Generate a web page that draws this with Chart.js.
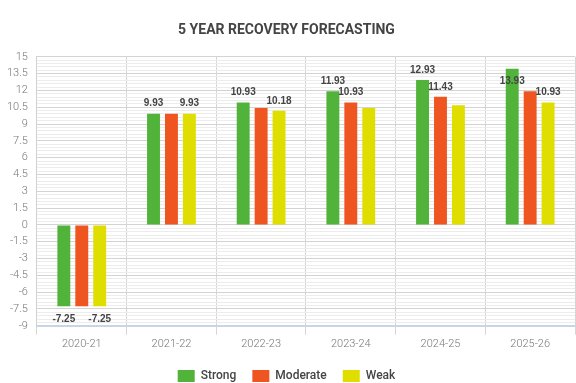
<!DOCTYPE html>
<html>
<head>
<meta charset="utf-8">
<script src="https://cdn.jsdelivr.net/npm/chart.js@4/dist/chart.umd.min.js"></script>
<style>
html,body{margin:0;padding:0;background:#fff;}
#wrap{width:576px;height:383px;position:relative;}
</style>
</head>
<body>
<div id="wrap"><canvas id="c" width="576" height="383"></canvas></div>
<script>
const categories = ["2020-21","2021-22","2022-23","2023-24","2024-25","2025-26"];
const strong   = [-7.25, 9.93, 10.93, 11.93, 12.93, 13.93];
const moderate = [-7.25, 9.93, 10.43, 10.93, 11.43, 11.93];
const weak     = [-7.25, 9.93, 10.18, 10.43, 10.68, 10.93];
const seriesNames = ["Strong","Moderate","Weak"];
const yMin = -9, yMax = 15, yLabelStep = 1.5, yMinorStep = 0.3;

const colors = ["#52b33b","#ef5520","#e0de00"];

function isMajor(v){ const r = v / yLabelStep; return Math.abs(r - Math.round(r)) < 1e-6; }

const labelPlugin = {
  id: 'valueLabels',
  afterDatasetsDraw(chart){
    const ctx = chart.ctx, area = chart.chartArea;
    ctx.save();
    ctx.font = 'bold 10px "Liberation Sans", Arial, sans-serif';
    ctx.fillStyle = '#444';
    ctx.textAlign = 'center';
    ctx.textBaseline = 'middle';
    const boxes = [];
    chart.data.datasets.forEach((ds, di) => {
      const meta = chart.getDatasetMeta(di);
      meta.data.forEach((bar, i) => {
        const v = ds.data[i];
        const txt = v.toFixed(2);
        const w = ctx.measureText(txt).width + 2;
        const h = 10;
        let y;
        if (v >= 0) {
          y = bar.y - 10;
          if (y - h/2 < area.top) y = bar.y + 12;
        } else {
          y = bar.y + 13;
        }
        const b = {x1: bar.x - w/2, x2: bar.x + w/2, y1: y - h/2, y2: y + h/2};
        const hit = boxes.some(o => b.x1 < o.x2 && b.x2 > o.x1 && b.y1 < o.y2 && b.y2 > o.y1);
        if (hit) return;
        boxes.push(b);
        ctx.fillText(txt, bar.x, y);
      });
    });
    ctx.restore();
  }
};

new Chart(document.getElementById('c'), {
  type: 'bar',
  data: {
    labels: categories,
    datasets: [strong, moderate, weak].map((d, i) => ({
      label: seriesNames[i],
      data: d,
      backgroundColor: colors[i],
      borderWidth: 0,
      categoryPercentage: 0.6,
      barPercentage: 0.72
    }))
  },
  options: {
    responsive: false,
    animation: false,
    devicePixelRatio: 1,
    layout: { padding: { left: -2, right: 1, top: 0, bottom: -9 } },
    plugins: {
      title: {
        display: true,
        text: '5 YEAR RECOVERY FORECASTING',
        color: '#444',
        font: { family: 'Roboto', weight: 'bold', size: 14 },
        padding: { top: 22, bottom: 18 }
      },
      legend: {
        position: 'bottom',
        labels: {
          boxWidth: 17, boxHeight: 12,
          color: '#444',
          padding: 16,
          font: { family: 'Roboto', weight: '500', size: 12 }
        }
      },
      tooltip: { enabled: false }
    },
    scales: {
      x: {
        grid: { offset: true, color: '#d6d6d6', tickLength: 9, drawOnChartArea: true },
        border: { color: '#c9d5e3', width: 2 },
        ticks: { color: '#777', font: { family: 'Roboto', weight: '300', size: 11 }, padding: 3 }
      },
      y: {
        min: yMin, max: yMax,
        grid: {
          drawTicks: false,
          color: (c) => isMajor(c.tick.value) ? '#d3d3d3' : '#ececec'
        },
        border: { color: '#d0d0d0' },
        ticks: {
          stepSize: yMinorStep,
          autoSkip: false,
          padding: 9,
          color: '#777',
          font: { family: 'Roboto', weight: '300', size: 11 },
          callback: (v) => isMajor(v) ? String(Math.round(v * 10) / 10) : ''
        }
      }
    }
  },
  plugins: [labelPlugin]
});
</script>
</body>
</html>
